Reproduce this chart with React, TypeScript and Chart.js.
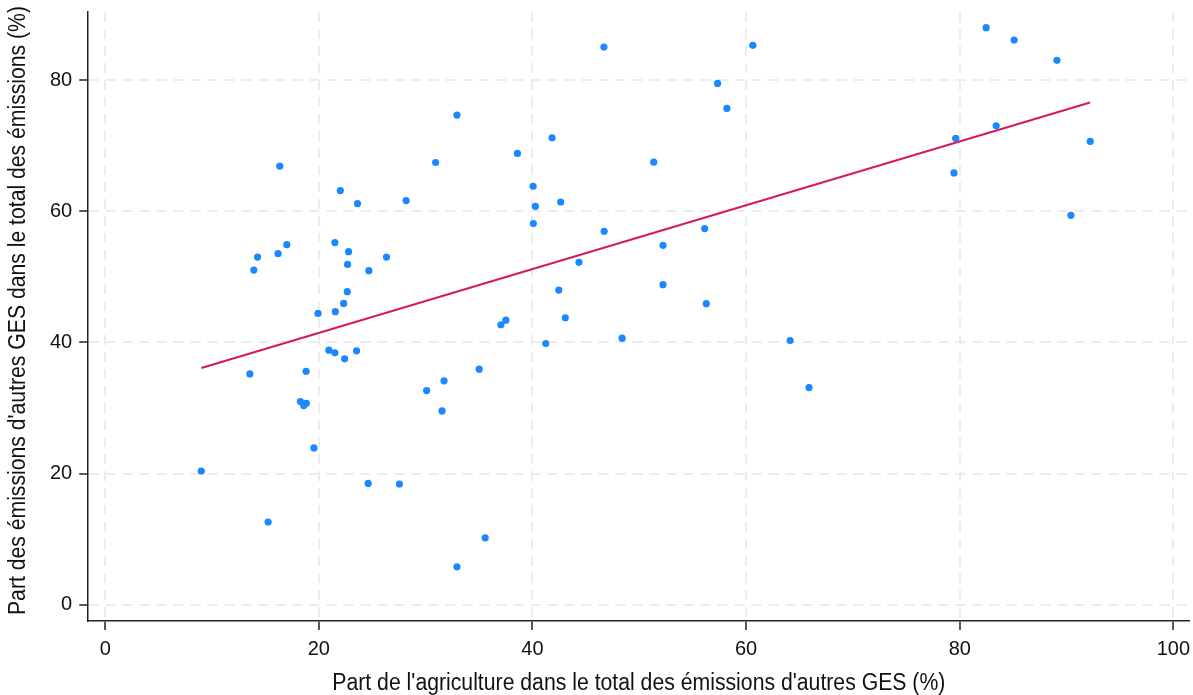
import React, { useEffect, useRef } from "react";
import { Chart, registerables } from "chart.js";

Chart.register(...registerables);

// Part de l'agriculture dans le total des émissions d'autres GES (%)
const agriShare: number[] = [
  8.99, 13.54, 13.91, 14.26, 15.25, 16.18, 16.34, 17.0, 18.27, 18.58,
  18.83, 18.8, 19.54, 19.92, 20.94, 21.5, 21.54, 21.5, 22.01, 22.32,
  22.41, 22.66, 22.69, 22.78, 23.53, 23.62, 24.62, 24.68, 26.33, 27.54,
  28.17, 30.09, 30.93, 31.53, 31.72, 32.93, 32.93, 35.01, 35.57, 37.04,
  37.51, 38.59, 40.06, 40.08, 40.27, 41.24, 41.83, 42.46, 42.64, 43.07,
  44.35, 46.71, 46.69, 48.39, 51.35, 52.22, 52.22, 56.12, 56.27, 57.33,
  58.2, 60.63, 64.12, 65.89, 79.46, 79.62, 82.47, 83.41, 85.09, 89.1,
  90.41, 92.22,
];

// Part des émissions d'autres GES dans le total des émissions (%)
const otherGhgShare: number[] = [
  20.38, 35.19, 51.03, 53.02, 12.59, 53.54, 66.88, 54.91, 30.97, 30.36,
  30.71, 35.6, 23.9, 44.42, 38.81, 38.41, 44.68, 55.22, 63.16, 45.94,
  37.49, 47.73, 51.9, 53.84, 38.72, 61.18, 18.49, 50.94, 53.02, 18.4,
  61.63, 32.65, 67.44, 29.55, 34.13, 74.67, 5.76, 35.91, 10.19, 42.69,
  43.39, 68.82, 63.82, 58.12, 60.76, 39.83, 71.2, 47.98, 61.42, 43.76,
  52.21, 56.94, 85.05, 40.64, 67.49, 54.81, 48.8, 57.36, 45.9, 79.51,
  75.69, 85.32, 40.29, 33.11, 65.85, 71.11, 88.01, 73.03, 86.13, 83.03,
  59.39, 70.65,
];

// Fitted line endpoints
const fitX: number[] = [9.0, 92.2];
const fitY: number[] = [36.1, 76.6];

const xTicks: number[] = [0, 20, 40, 60, 80, 100];
const yTicks: number[] = [0, 20, 40, 60, 80];

const xTitle = "Part de l'agriculture dans le total des émissions d'autres GES (%)";
const yTitle = "Part des émissions d'autres GES dans le total des émissions (%)";

const FONT = "'Liberation Sans', Arial, sans-serif";
const TEXT_COLOR = "#111111";

const axisTitlesPlugin = {
  id: "axisTitles",
  afterDraw(chart: any) {
    const { ctx, chartArea } = chart;
    ctx.save();
    ctx.fillStyle = TEXT_COLOR;
    ctx.font = `23.5px ${FONT}`;
    ctx.textAlign = "center";
    ctx.textBaseline = "middle";
    // x title
    ctx.fillText(xTitle, (chartArea.left + chartArea.right) / 2, chartArea.bottom + 63, 613);
    // y title
    ctx.translate(chartArea.left - 70, (chartArea.top + chartArea.bottom) / 2 - 6);
    ctx.rotate(-Math.PI / 2);
    ctx.fillText(yTitle, 0, 0, 609);
    ctx.restore();
  },
};

export default function App() {
  const ref = useRef<HTMLCanvasElement | null>(null);

  useEffect(() => {
    if (!ref.current) return;
    const points = agriShare.map((x, i) => ({ x, y: otherGhgShare[i] }));
    const line = fitX.map((x, i) => ({ x, y: fitY[i] }));

    const axisCommon = (ticksList: number[]) => ({
      type: "linear" as const,
      afterBuildTicks: (scale: any) => {
        scale.ticks = ticksList.map((v) => ({ value: v }));
      },
      afterFit: (scale: any) => {
        scale.paddingTop = 0;
        scale.paddingBottom = 0;
        scale.paddingLeft = 0;
        scale.paddingRight = 0;
      },
      grid: {
        color: "#ececec",
        lineWidth: 2,
        drawTicks: true,
        tickLength: 9,
        tickColor: "#222222",
        tickWidth: 1.5,
        tickBorderDash: [],
      },
      border: {
        display: true,
        color: "#222222",
        width: 1.5,
        dash: [10, 7],
      },
      ticks: {
        color: TEXT_COLOR,
        font: { family: FONT, size: 20 },
        padding: 7,
        autoSkip: false,
        maxRotation: 0,
        callback: (v: any) => String(v),
      },
    });

    const chart = new Chart(ref.current, {
      type: "scatter",
      data: {
        datasets: [
          {
            label: "points",
            data: points,
            backgroundColor: "#1a88ff",
            borderWidth: 0,
            pointRadius: 3.6,
            pointHoverRadius: 3.6,
            order: 2,
          },
          {
            type: "line",
            label: "fit",
            data: line,
            borderColor: "#d6195a",
            borderWidth: 2,
            pointRadius: 0,
            fill: false,
            tension: 0,
            order: 1,
          } as any,
        ],
      },
      options: {
        animation: false,
        responsive: true,
        maintainAspectRatio: false,
        layout: { padding: { top: 12, right: 3, bottom: 27, left: 43 } },
        plugins: {
          legend: { display: false },
          tooltip: { enabled: false },
        },
        scales: {
          x: {
            ...axisCommon(xTicks),
            min: -1.59,
            max: 101.5,
          },
          y: {
            ...axisCommon(yTicks),
            min: -2.5,
            max: 90.4,
          },
        },
      },
      plugins: [axisTitlesPlugin],
    });
    return () => chart.destroy();
  }, []);

  return (
    <div style={{ position: "absolute", left: 0, top: 0, width: 1193, height: 695, background: "#ffffff" }}>
      <canvas ref={ref} />
    </div>
  );
}
